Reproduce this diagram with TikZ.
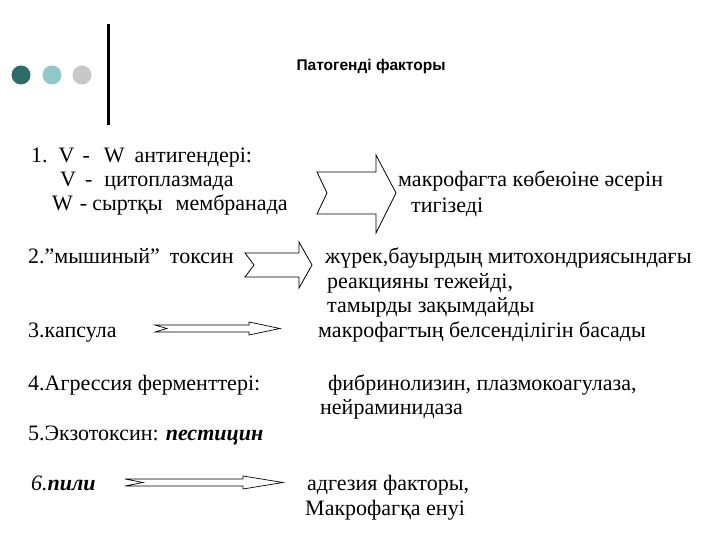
\documentclass[tikz,border=0pt]{standalone}
\usepackage{fontspec}
\setmainfont{Liberation Serif}
\newfontfamily\titlefont{Liberation Sans}
\definecolor{dotA}{HTML}{2E6B6B}
\definecolor{dotB}{HTML}{90C8CC}
\definecolor{dotC}{HTML}{C8C8C8}
\begin{document}
\begin{tikzpicture}[x=1pt,y=-1pt,
  txt/.style={anchor=base west,inner sep=0pt,font=\fontsize{22}{26}\selectfont},
  blockarrow/.style={draw=black,line width=0.8pt,fill=white,line join=miter},
  thinarrow/.style={draw=black,line width=0.7pt,fill=white,line join=miter}]
\useasboundingbox (0,0) rectangle (720,540);
% decoration
\fill[dotA] (21,75) circle (9.5);
\fill[dotB] (52,75) circle (9.5);
\fill[dotC] (82,75) circle (9.5);
\draw[line width=3pt] (108,24) -- (108,125);
\node[inner sep=0pt,font=\titlefont\bfseries\fontsize{15.5}{18}\selectfont] (title) at (371,66) {Патогенді факторы};
% left column
\node[txt] (l1) at (31,163) {1.\hspace{11pt}V\hspace{8pt}-\hspace{14pt}W\hspace{10pt}антигендері:};
\node[txt] (l2) at (60,187) {V\hspace{9pt}-\hspace{12pt}цитоплазмада};
\node[txt] (l3) at (52,211) {W\hspace{7pt}-\hspace{5pt}сыртқы\hspace{13pt}мембранада};
\node[txt] (l4) at (28,263) {2.”мышиный”\hspace{10pt}токсин};
\node[txt] (l5) at (28,337) {3.капсула};
\node[txt] (l6) at (28,390) {4.Агрессия ферменттері:};
\node[txt] (l7) at (28,440) {5.Экзотоксин:\hspace{7pt}\textbf{\textit{пестицин}}};
\node[txt] (l8) at (31,490) {\textit{6.}\textbf{\textit{пили}}};
% right column
\node[txt] (r1) at (398,187) {макрофагта көбеюіне әсерін};
\node[txt] (r2) at (411,212) {тигізеді};
\node[txt] (r3) at (325,263) {жүрек,бауырдың митохондриясындағы};
\node[txt] (r4) at (327,288) {реакцияны тежейді,};
\node[txt] (r5) at (327,312) {тамырды зақымдайды};
\node[txt] (r6) at (318,337) {макрофагтың белсенділігін басады};
\node[txt] (r7) at (328,390) {фибринолизин, плазмокоагулаза,};
\node[txt] (r8) at (320,414) {нейраминидаза};
\node[txt] (r9) at (307,490) {адгезия факторы,};
\node[txt] (r10) at (305,515) {Макрофагқа енуі};
% arrows
\draw[blockarrow] (317,172) -- (376,172) -- (376,155) -- (396,193) -- (376,233) -- (376,214) -- (317,214) -- (327,193) -- cycle;
\draw[blockarrow] (245,253) -- (299,253) -- (299,242) -- (312,265) -- (299,288) -- (299,277) -- (245,277) -- (254,265) -- cycle;
\draw[thinarrow] (155,325) -- (249,325) -- (249,322) -- (280,328.5) -- (249,335) -- (249,332) -- (155,332) -- (167,328.5) -- cycle;
\draw[thinarrow] (125,479) -- (243,479) -- (243,476) -- (283,482.5) -- (243,489) -- (243,486) -- (125,486) -- (143,482.5) -- cycle;
\end{tikzpicture}
\end{document}
